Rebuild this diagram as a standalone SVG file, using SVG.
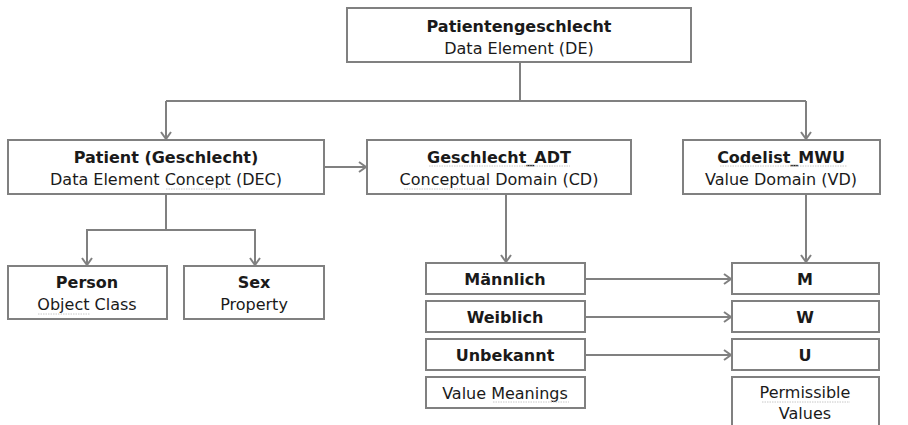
<svg xmlns="http://www.w3.org/2000/svg" width="908" height="425" viewBox="0 0 908 425">
<defs>
<marker id="ah" markerWidth="12" markerHeight="12" refX="9" refY="6" orient="auto" markerUnits="userSpaceOnUse">
<path d="M2,1 L9,6 L2,11" fill="none" stroke="#808080" stroke-width="2"/>
</marker>
</defs>
<style>
.box{fill:#fff;stroke:#808080;stroke-width:2}
.t{font-family:"DejaVu Sans",Verdana,sans-serif;font-size:16px;fill:#1a1a1a;text-anchor:middle}
.b{font-weight:bold}
.c{fill:none;stroke:#808080;stroke-width:2}
.u{stroke:#c8c8c8;stroke-width:1;stroke-dasharray:1.5 1}
</style>
<rect width="908" height="425" fill="#fff"/>
<g id="connectors">
<path class="c" d="M520,62 V101"/>
<path class="c" d="M166,101 H806"/>
<path class="c" d="M166,101 V139" marker-end="url(#ah)"/>
<path class="c" d="M806,101 V139" marker-end="url(#ah)"/>
<path class="c" d="M324,167 H366" marker-end="url(#ah)"/>
<path class="c" d="M166,194 V230 H87 V265" marker-end="url(#ah)"/>
<path class="c" d="M166,230 H255 V265" marker-end="url(#ah)"/>
<path class="c" d="M506,194 V262" marker-end="url(#ah)"/>
<path class="c" d="M806,194 V262" marker-end="url(#ah)"/>
<path class="c" d="M585,279 H731" marker-end="url(#ah)"/>
<path class="c" d="M585,317 H731" marker-end="url(#ah)"/>
<path class="c" d="M585,355 H731" marker-end="url(#ah)"/>
</g>
<g id="de">
<rect class="box" x="347" y="8" width="344" height="54"/>
<text class="t b" x="519" y="32">Patientengeschlecht</text>
<text class="t" x="519" y="54">Data Element (DE)</text>
</g>
<g id="dec">
<rect class="box" x="8" y="140" width="316" height="54"/>
<text class="t b" x="166" y="163">Patient (Geschlecht)</text>
<text class="t" x="166" y="185">Data Element Concept (DEC)</text>
<line class="u" x1="166" y1="189" x2="230" y2="189"/>
</g>
<g id="cd">
<rect class="box" x="367" y="140" width="264" height="54"/>
<text class="t b" x="499" y="163">Geschlecht_ADT</text>
<line class="u" x1="429" y1="166" x2="570" y2="166"/>
<text class="t" x="499" y="185">Conceptual Domain (CD)</text>
<line class="u" x1="404" y1="189" x2="489" y2="189"/>
</g>
<g id="vd">
<rect class="box" x="683" y="140" width="197" height="54"/>
<text class="t b" x="781" y="163">Codelist_MWU</text>
<line class="u" x1="720" y1="166" x2="847" y2="166"/>
<text class="t" x="781" y="185">Value Domain (VD)</text>
</g>
<g id="person">
<rect class="box" x="8" y="266" width="159" height="53"/>
<text class="t b" x="87" y="288">Person</text>
<text class="t" x="87" y="310">Object Class</text>
<line class="u" x1="38" y1="314" x2="90" y2="314"/>
</g>
<g id="sex">
<rect class="box" x="184" y="266" width="140" height="53"/>
<text class="t b" x="254" y="288">Sex</text>
<text class="t" x="254" y="310">Property</text>
</g>
<g id="maennlich">
<rect class="box" x="426" y="263" width="159" height="31"/>
<text class="t b" x="505" y="285">Männlich</text>
</g>
<g id="weiblich">
<rect class="box" x="426" y="301" width="159" height="31"/>
<text class="t b" x="505" y="323">Weiblich</text>
</g>
<g id="unbekannt">
<rect class="box" x="426" y="339" width="159" height="31"/>
<text class="t b" x="505" y="361">Unbekannt</text>
</g>
<g id="value-meanings">
<rect class="box" x="426" y="377" width="159" height="31"/>
<text class="t" x="505" y="399">Value Meanings</text>
<line class="u" x1="493" y1="402" x2="569" y2="402"/>
</g>
<g id="m">
<rect class="box" x="732" y="263" width="147" height="31"/>
<text class="t b" x="805" y="285">M</text>
</g>
<g id="w">
<rect class="box" x="732" y="301" width="147" height="31"/>
<text class="t b" x="805" y="323">W</text>
</g>
<g id="u">
<rect class="box" x="732" y="339" width="147" height="31"/>
<text class="t b" x="805" y="361">U</text>
</g>
<g id="permissible-values">
<rect class="box" x="732" y="377" width="147" height="60"/>
<text class="t" x="805" y="398">Permissible</text>
<line class="u" x1="762" y1="402" x2="850" y2="402"/>
<text class="t" x="805" y="419">Values</text>
</g>
</svg>
